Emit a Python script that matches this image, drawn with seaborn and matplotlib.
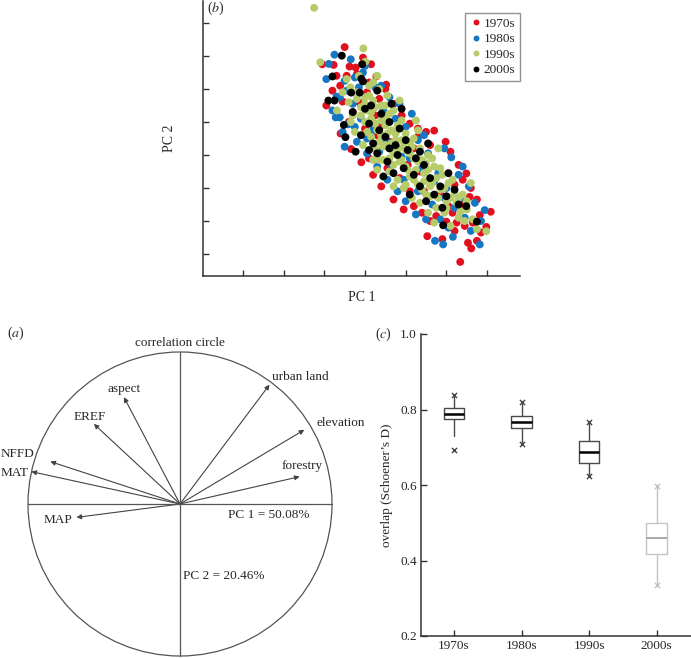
import numpy as np
import pandas as pd
import matplotlib
matplotlib.use("Agg")
import matplotlib.pyplot as plt
from matplotlib.patches import Circle, FancyArrowPatch
import seaborn as sns

# ---------------- data ----------------
decades = ["1970s", "1980s", "1990s", "2000s"]
colors = ["#e2101e", "#1577c4", "#b6cc6a", "#000000"]

pc1_1970 = [-0.50, -0.77, -0.38, -0.23, 0.28, -0.61, 0.52, -0.80, -0.55, -0.20, 0.10, -0.95, -0.34, -0.09,
            -0.60, -0.30, 0.05, 0.35, 0.70, 0.90, 0.40, 1.10, 1.30, 1.50, 1.70, 1.98, 1.60, 1.20, 2.10, 2.30,
            2.49, 2.40, 2.20, 2.60, 2.57, 2.75, 2.40, 2.82, 3.09, 2.98, 2.00, 2.25, 2.45, 1.60, 1.53, 2.61,
            2.53, 2.75, 2.34, 1.90, 1.75, 1.40, 1.20, 0.95, 0.70, 0.40, 0.20, 0.10, 0.55, 0.85, 1.05, 1.35,
            1.65, 1.85, 2.05, 0.60, 0.30, 0.00, -0.40, -0.15, 0.75, 1.45, 2.15, 1.10, 0.25, -0.70, -1.05,
            0.15, -0.05, 2.65, 2.85, 2.20, 1.30, 0.50, -0.45]
pc2_1970 = [3.27, 2.73, 2.68, 2.65, 2.38, 2.10, 2.13, 1.95, 1.62, 2.45, 2.20, 1.50, 0.18, -0.22,
            0.65, 1.30, 1.90, 1.70, 1.55, 1.20, 0.90, 0.95, 0.80, 0.70, 0.74, 0.40, 0.30, 0.20, 0.10, -0.30,
            -0.56, -0.75, -0.90, -1.00, -1.27, -1.35, -1.50, -1.82, -1.72, -2.18, -2.02, -2.05, -2.15, -2.00,
            -2.46, -2.83, -2.66, -2.60, -3.24, -2.55, -1.85, -1.75, -1.55, -1.65, -1.35, -0.95, -0.60, -0.10,
            -0.40, -0.70, -0.30, -0.50, -0.80, -1.20, -1.55, 0.40, 0.60, 0.80, 1.00, 1.60, 0.10, -1.10, -1.75,
            -1.10, 1.20, 2.40, 2.75, 2.75, 2.95, -2.05, -2.35, -2.30, 0.55, 2.00, 2.40]

pc1_1980 = [-0.75, -0.89, -0.50, -0.70, -0.62, -0.72, -0.62, -0.41, -0.50, -0.05, -0.25, -0.15, 0.25, 0.60,
            0.85, -0.30, -0.55, -0.20, 0.05, 0.30, 0.55, 0.80, 1.00, 1.25, 1.50, 1.72, 1.92, 2.16, 2.82, 2.94,
            2.12, 2.30, 2.55, 2.70, 2.35, 2.00, 1.80, 1.55, 1.30, 1.00, 0.75, 0.45, 0.15, -0.10, 0.20, 0.50,
            0.80, 1.10, 1.40, 1.70, 1.95, 2.20, 2.45, 2.05, 1.65, 1.30, 0.95, 0.65, 0.35, 0.05, -0.25, 2.60,
            2.85, 1.85, 0.40, 1.15, -0.95, -0.80, -0.35, 0.00, 1.45, 1.95, 2.40, 0.90, -0.45]
pc2_1980 = [3.04, 2.76, 2.25, 1.77, 1.75, 1.14, 1.14, 0.93, 0.25, 2.50, 2.35, 2.05, 2.05, 1.75,
            1.55, 1.55, 0.70, 0.40, 0.05, -0.35, -0.75, -1.10, -1.40, -1.80, -1.95, -2.60, -2.71, -2.48, -2.71,
            -1.67, -0.07, -0.60, -0.95, -1.45, -1.30, -1.00, -0.55, 0.05, 0.45, 0.85, 1.10, 1.35, 1.45, 1.10,
            0.75, 0.45, 0.20, -0.10, -0.40, -0.80, -1.30, -1.60, -1.90, -2.20, -1.50, -1.10, -0.75, -0.30,
            0.10, 0.50, 0.85, -2.30, -2.00, -1.95, 2.10, 1.25, 2.30, 1.35, 2.90, 2.70, 0.60, 0.20, -0.35,
            -0.05, 1.95]

pc1_1990 = [-1.25, -0.04, -1.10, 0.01, -0.36, -0.69, 2.98, -0.20, 0.00, 0.20, 0.10, 0.35, 0.55, 0.40,
            0.15, -0.10, -0.30, 0.00, 0.25, 0.50, 0.70, 0.90, 0.65, 0.40, 0.15, -0.05, 0.25, 0.50, 0.75, 1.00,
            1.20, 0.95, 0.70, 0.45, 0.30, 0.60, 0.85, 1.10, 1.35, 1.55, 1.30, 1.05, 0.80, 0.95, 1.20, 1.45,
            1.70, 1.90, 1.65, 1.40, 1.15, 1.35, 1.60, 1.85, 2.05, 2.20, 2.00, 1.75, 1.55, 1.95, 2.25, 2.40,
            2.50, 2.30, 1.70, 2.10, 0.50, 0.80, 1.10, 0.60, 0.35, 0.05, -0.25, 0.20, 1.50, 1.00, 0.70, 1.30,
            -0.40, -0.15, 0.30, -0.55, 2.65, 2.75, 1.25, 0.85, 1.80, 2.60,
            -0.20, -0.10, 0.00, 0.10, 0.15, 0.25, 0.30, 0.40, 0.45, 0.55, 0.60, 0.65, 0.75, 0.80, 0.90,
            0.90, 1.00, 1.00, 1.10, 1.15, 1.20, 1.25, 1.30, 1.40, 1.45, 1.50, 1.55, 1.60, 1.65, 1.75,
            1.80, 1.85, 1.95, 2.00, 2.10, 2.15, 2.30, 2.35, 0.20, 0.50, -0.35, -0.45, 0.05, 0.35, 0.70,
            2.50, 2.45]
pc2_1990 = [4.46, 3.23, 2.81, 2.83, 2.05, 1.35, -2.31, 1.90, 1.75, 1.65, 2.10, 2.00, 1.80, 1.50,
            1.30, 1.45, 1.20, 1.00, 0.95, 1.15, 1.35, 1.05, 0.75, 0.60, 0.55, 0.30, 0.20, 0.30, 0.45, 0.65,
            0.50, 0.25, 0.05, -0.15, -0.45, -0.50, -0.20, 0.05, 0.20, 0.00, -0.20, -0.45, -0.75, -1.00, -0.75,
            -0.55, -0.35, -0.60, -0.85, -1.05, -1.30, -1.45, -1.25, -1.05, -0.85, -1.15, -1.40, -1.60, -1.75,
            -1.75, -1.45, -1.20, -1.65, -1.90, -2.05, -2.15, 0.90, 0.90, 0.40, -0.10, 0.40, 1.35, 0.70, -0.15,
            -0.25, -0.90, -0.95, 0.75, 1.60, 2.40, 2.40, 1.90, -1.95, -2.25, 1.05, 1.65, 0.20, -0.85,
            1.70, 1.20, 1.55, 1.80, 1.10, 1.45, 0.75, 1.05, 0.25, 0.65, 1.25, 0.35, 0.65, 0.15, 0.45,
            -0.15, 0.15, -0.35, -0.65, 0.25, -0.10, -0.45, -0.90, -0.15, -0.80, -1.20, -0.45, -0.95, -0.10,
            -0.70, -1.30, -0.40, -1.00, -1.60, -1.30, -0.75, -1.30, -1.70, 2.20, 1.50, 1.00, 2.30, 0.70,
            -0.15, -0.30, -1.40, -2.00]

pc1_2000 = [-0.57, -0.07, -0.80, -0.09, -0.05, -0.34, -0.13, -0.90, -0.75, -0.52, -0.48, -0.23, 1.92, 2.75,
            2.49, 0.15, 0.40, 0.65, 0.90, 0.10, 0.35, 0.60, 0.85, -0.10, 0.20, 0.50, 0.75, 1.00, 0.30, 0.55,
            0.80, 1.05, 1.25, 0.95, 1.20, 1.45, 1.60, 1.35, 1.10, 1.85, 1.70, 1.50, 2.00, 2.20, 1.90, 2.30,
            0.45, 0.70, 1.55, 2.05, 0.00, -0.30, 0.30, 0.60, 1.35, 0.10]
pc2_2000 = [3.01, 2.75, 2.38, 2.31, 2.23, 1.89, 1.89, 1.65, 1.65, 0.91, 0.54, 0.10, -2.13, -2.02,
            -1.55, 1.50, 1.25, 1.55, 1.40, 0.95, 0.75, 1.00, 0.80, 0.60, 0.35, 0.55, 0.30, 0.45, 0.05, -0.20,
            0.00, 0.15, -0.10, -0.40, -0.60, -0.30, -0.70, -0.95, -1.20, -0.95, -1.20, -1.40, -1.25, -1.05,
            -1.60, -1.50, -0.65, -0.55, 0.35, -0.55, 1.40, 1.30, 1.95, 0.20, 0.10, 0.15]

# correlation circle loadings
variables = ["urban land", "elevation", "forestry", "aspect", "EREF", "NFFD", "MAT", "MAP"]
load_pc1 = [0.589, 0.818, 0.787, -0.369, -0.567, -0.853, -0.978, -0.681]
load_pc2 = [0.785, 0.488, 0.180, 0.703, 0.527, 0.279, 0.213, -0.088]

# box plot stats (Schoener's D)
box_q1 = [0.775, 0.751, 0.658, 0.418]
box_med = [0.789, 0.767, 0.688, 0.460]
box_q3 = [0.804, 0.783, 0.717, 0.500]
box_lo = [0.731, 0.709, 0.624, 0.336]
box_hi = [0.838, 0.820, 0.767, 0.597]
box_marks = [[0.838, 0.694], [0.820, 0.709], [0.767, 0.624], [0.597, 0.336]]

# ---------------- style ----------------
sns.set_style("ticks")
plt.rcParams["font.family"] = ["Liberation Serif", "DejaVu Serif"]
plt.rcParams["mathtext.fontset"] = "stix"

W, H = 691, 658
fig = plt.figure(figsize=(W / 100, H / 100), dpi=100)

def frac(x0, y0, x1, y1):
    return [x0 / W, 1 - y1 / H, (x1 - x0) / W, (y1 - y0) / H]

spine_c = "#333333"

# ---------------- (b) scatter ----------------
axb = fig.add_axes(frac(203, 1, 520, 276))
rows = []
for d, xs, ys in zip(decades, [pc1_1970, pc1_1980, pc1_1990, pc1_2000],
                     [pc2_1970, pc2_1980, pc2_1990, pc2_2000]):
    for x, y in zip(xs, ys):
        rows.append((d, x, y))
df = pd.DataFrame(rows, columns=["decade", "PC1", "PC2"])
sns.scatterplot(data=df, x="PC1", y="PC2", hue="decade", hue_order=decades,
                palette=colors, s=32, linewidth=0, ax=axb, legend=True)
axb.set_xlim((203 - 365) / 40.7, (520 - 365) / 40.7)
axb.set_ylim((155 - 276) / 33, (155 - 1) / 33)
axb.set_xticks([-3, -2, -1, 0, 1, 2, 3])
axb.set_yticks([-3, -2, -1, 0, 1, 2, 3, 4])
axb.set_xticklabels([])
axb.set_yticklabels([])
axb.tick_params(direction="in", length=4, width=1, color=spine_c)
for s in ["top", "right"]:
    axb.spines[s].set_visible(False)
for s in ["left", "bottom"]:
    axb.spines[s].set_color(spine_c)
    axb.spines[s].set_linewidth(1.1)
axb.set_xlabel("PC 1", fontsize=10, labelpad=7)
axb.set_ylabel("PC 2", fontsize=10, labelpad=16)
handles, labels = axb.get_legend_handles_labels()
leg = axb.legend(handles, labels, loc="upper right", bbox_to_anchor=(1.0, (276 - 13) / 275),
                 frameon=True, fancybox=False, markerscale=0.75, fontsize=9.5,
                 handletextpad=0.1, handlelength=1.0, borderpad=0.35, labelspacing=0.25,
                 borderaxespad=0)
leg.get_frame().set_edgecolor("#777777")
leg.get_frame().set_linewidth(1.0)
fig.text(207 / W, 1 - 8 / H, "($b$)", fontsize=10, va="center", ha="left")

# ---------------- (a) correlation circle ----------------
axa = fig.add_axes(frac(0, 325, 370, 658))
axa.set_xlim(-180 / 152, 190 / 152)
axa.set_ylim((504 - 658) / 152, (504 - 325) / 152)
axa.axis("off")
line_c = "#555555"
axa.add_patch(Circle((0, 0), 1.0, fill=False, ec=line_c, lw=0.9))
sns.lineplot(x=[-1, 1], y=[0, 0], ax=axa, color=line_c, lw=0.9)
sns.lineplot(x=[0, 0], y=[-1, 1], ax=axa, color=line_c, lw=0.9, orient="y")
for vx, vy in zip(load_pc1, load_pc2):
    axa.add_patch(FancyArrowPatch((0, 0), (vx, vy), arrowstyle="-|>", mutation_scale=7,
                                  color="#444444", lw=0.8, shrinkA=0, shrinkB=0))
label_pos = {"urban land": (0.605, 0.836), "elevation": (0.90, 0.53), "forestry": (0.67, 0.25),
             "aspect": (-0.48, 0.757), "EREF": (-0.70, 0.572), "NFFD": (-1.18, 0.329),
             "MAT": (-1.18, 0.204), "MAP": (-0.90, -0.105)}
for v in variables:
    px, py = label_pos[v]
    axa.text(px, py, v, fontsize=9.5, ha="left", va="center", clip_on=False)
axa.text(0.316, -0.072, "PC 1 = 50.08%", fontsize=9.5, ha="left", va="center")
axa.text(0.02, -0.474, "PC 2 = 20.46%", fontsize=9.5, ha="left", va="center")
axa.text(0, 1.06, "correlation circle", fontsize=9.5, ha="center", va="center")
axa.text(-1.14, 1.125, "($a$)", fontsize=10, ha="left", va="center")

# ---------------- (c) boxplot ----------------
axc = fig.add_axes(frac(421, 334, 691, 636))
stats = []
for i in range(4):
    stats.append(dict(med=box_med[i], q1=box_q1[i], q3=box_q3[i], whislo=box_lo[i],
                      whishi=box_hi[i], fliers=[], label=decades[i]))
dark = "#4a4a4a"
light = "#c4c4c4"
for i, st in enumerate(stats):
    ec = light if i == 3 else dark
    mc = "#a8a8a8" if i == 3 else "#000000"
    axc.bxp([st], positions=[i], widths=0.3, showcaps=False, showfliers=False,
            boxprops=dict(color=ec, lw=1.0), whiskerprops=dict(color=ec, lw=1.0),
            medianprops=dict(color=mc, lw=1.8 if i < 3 else 1.4), manage_ticks=False)
mark_df = pd.DataFrame([(i, m) for i in range(4) for m in box_marks[i]], columns=["pos", "val"])
for i in range(4):
    sub = mark_df[mark_df.pos == i]
    sns.scatterplot(x=sub["pos"], y=sub["val"], marker="x", s=14, ax=axc,
                    color=light if i == 3 else "#444444", linewidth=1.0, legend=False)
axc.set_xlim(-0.49, 3.51)
axc.set_ylim(0.2, 1.0)
axc.set_xticks(range(4))
axc.set_xticklabels(decades, fontsize=9.5)
axc.set_yticks([0.2, 0.4, 0.6, 0.8, 1.0])
axc.set_yticklabels(["0.2", "0.4", "0.6", "0.8", "1.0"], fontsize=9.5)
axc.tick_params(direction="in", length=4, width=1, color=spine_c, pad=3)
axc.set_xlabel("")
axc.set_ylabel("overlap (Schoener\u2019s D)", fontsize=9.5, labelpad=5)
for s in ["top", "right"]:
    axc.spines[s].set_visible(False)
for s in ["left", "bottom"]:
    axc.spines[s].set_color(spine_c)
    axc.spines[s].set_linewidth(1.1)
fig.text(375 / W, 1 - 334 / H, "($c$)", fontsize=10, va="center", ha="left")

fig.savefig("out.png", dpi=100)
